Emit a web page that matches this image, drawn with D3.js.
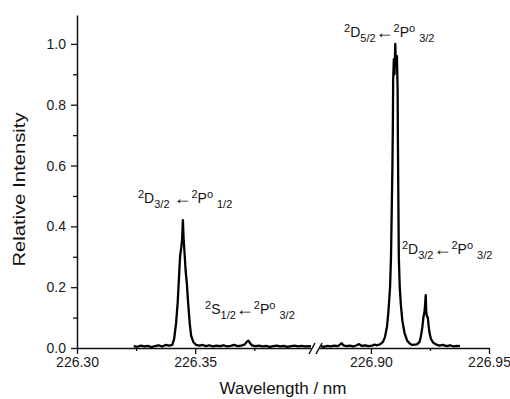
<!DOCTYPE html>
<html>
<head>
<meta charset="utf-8">
<script src="https://cdn.jsdelivr.net/npm/d3@7"></script>
<style>
  html, body { margin: 0; padding: 0; background: #fff; }
  svg { display: block; }
  text { font-family: "Liberation Sans", Arial, "DejaVu Sans", sans-serif; fill: #111; }
</style>
</head>
<body>
<svg id="chart" width="510" height="399"></svg>
<script>
// ---------------- data ----------------
const leftWl = [226.3240,226.3255,226.3270,226.3285,226.3300,226.3315,226.3330,226.3345,226.3360,226.3375,226.3390,226.3403,226.3411,226.3419,226.3426,226.3430,226.3436,226.3441,226.3445,226.3448,226.3451,226.3456,226.3460,226.3465,226.3470,226.3477,226.3483,226.3492,226.3504,226.3518,226.3532,226.3546,226.3560,226.3575,226.3590,226.3605,226.3620,226.3635,226.3650,226.3665,226.3680,226.3695,226.3710,226.3718,226.3725,226.3732,226.3740,226.3755,226.3770,226.3785,226.3800,226.3815,226.3830,226.3845,226.3860,226.3875,226.3890,226.3905,226.3920,226.3935,226.3950,226.3965,226.3980,226.3990];
const leftInt = [0.006,0.004,0.008,0.005,0.007,0.003,0.006,0.009,0.005,0.010,0.008,0.010,0.030,0.080,0.150,0.210,0.300,0.330,0.360,0.420,0.360,0.300,0.250,0.210,0.150,0.080,0.040,0.020,0.010,0.008,0.010,0.006,0.009,0.005,0.008,0.006,0.009,0.005,0.007,0.010,0.006,0.008,0.012,0.020,0.024,0.016,0.009,0.006,0.008,0.005,0.007,0.004,0.006,0.008,0.005,0.007,0.004,0.006,0.008,0.005,0.007,0.005,0.006,0.005];

const rightWl = [226.8788,226.8800,226.8815,226.8830,226.8845,226.8860,226.8870,226.8876,226.8883,226.8895,226.8910,226.8925,226.8940,226.8950,226.8960,226.8975,226.8990,226.9005,226.9015,226.9025,
  226.9038,226.9051,226.9059,226.9068,226.9074,226.9081,226.9085,226.9088,226.9091,226.9093,226.9094,226.9097,226.9100,226.9103,226.9106,226.9110,226.9113,226.9114,226.9116,226.9118,226.9122,226.9127,226.9133,226.9142,226.9153,226.9165,
  226.9175,226.9185,
  226.9195,226.9206,226.9212,226.9218,226.9222,226.9227,226.9230,226.9232,226.9234,226.9237,226.9241,226.9244,226.9248,226.9254,226.9263,226.9275,
  226.9290,226.9305,226.9320,226.9335,226.9350,226.9365,226.9377];
const rightInt = [0.006,0.004,0.007,0.005,0.008,0.006,0.012,0.016,0.009,0.006,0.008,0.005,0.009,0.013,0.007,0.009,0.006,0.008,0.011,0.009,
  0.012,0.020,0.035,0.070,0.120,0.200,0.300,0.450,0.600,0.750,0.880,0.950,0.900,1.000,0.930,0.960,0.850,0.700,0.500,0.300,0.200,0.140,0.090,0.050,0.025,0.014,
  0.010,0.011,
  0.012,0.020,0.040,0.070,0.100,0.120,0.150,0.174,0.120,0.105,0.100,0.075,0.050,0.030,0.018,0.012,
  0.008,0.010,0.006,0.009,0.005,0.007,0.006];

const xDomainLeft = [226.30, 226.399];
const xDomainRight = [226.878, 226.95];
const yDomain = [0, 1.095];

const xTicksLeft = [226.30, 226.35];
const xMinorLeft = [226.325, 226.375];
const xTicksRight = [226.90, 226.95];
const xMinorRight = [226.925];
const yTicks = [0.0, 0.2, 0.4, 0.6, 0.8, 1.0];
const yMinor = [0.1, 0.3, 0.5, 0.7, 0.9];

const xTitle = "Wavelength / nm";
const yTitle = "Relative Intensity";

// labels: parts [text, level (0 base, 1 sup, -1 sub, 2 arrow), extra dx], anchored in data coords
const labels = [
  { seg: "L", wl: 226.3258, v: 0.478, parts: [["2",1],["D",0],["3/2",-1],[" ",0],["\u2190",2],["2",1],["P",0],["o",1],["1/2",-1,4]] },
  { seg: "L", wl: 226.3542, v: 0.112, parts: [["2",1],["S",0],["1/2",-1],["\u2190",2],["2",1],["P",0],["o",1],["3/2",-1,4]] },
  { seg: "R", wl: 226.8886, v: 1.022, parts: [["2",1],["D",0],["5/2",-1],["\u2190",2],["2",1],["P",0],["o",1],["3/2",-1,4]] },
  { seg: "R", wl: 226.9131, v: 0.309, parts: [["2",1],["D",0],["3/2",-1],["\u2190",2],["2",1],["P",0],["o",1],["3/2",-1,4]] }
];

// ---------------- scales ----------------
const svg = d3.select("#chart");
const xL = d3.scaleLinear().domain(xDomainLeft).range([77, 311]);
const xR = d3.scaleLinear().domain(xDomainRight).range([319, 489]);
const y = d3.scaleLinear().domain(yDomain).range([348, 15]);

const fmt2 = d3.format(".2f");
const fmt1 = d3.format(".1f");

// ---------------- axes ----------------
const axisStyle = g => {
  g.selectAll("path.domain").attr("stroke", "#111").attr("stroke-width", 1.5);
  g.selectAll(".tick line").attr("stroke", "#111").attr("stroke-width", 1.3);
  g.selectAll(".tick text").style("font-size", "14px").style("fill", "#1a1a1a")
    .style("font-family", '"Liberation Sans", Arial, sans-serif');
};

const x0 = y(0);
[[xL, xTicksLeft, xMinorLeft], [xR, xTicksRight, xMinorRight]].forEach(([sc, maj, min]) => {
  svg.append("g").attr("transform", `translate(0,${x0})`)
    .call(d3.axisBottom(sc).tickValues(maj).tickFormat(fmt2).tickSize(6).tickPadding(3).tickSizeOuter(0))
    .call(axisStyle);
  svg.append("g").attr("transform", `translate(0,${x0})`)
    .call(d3.axisBottom(sc).tickValues(min).tickFormat("").tickSize(3).tickSizeOuter(0))
    .call(axisStyle)
    .call(g => g.select("path.domain").remove());
});

svg.append("g").attr("transform", `translate(${xL.range()[0]},0)`)
  .call(d3.axisLeft(y).tickValues(yTicks).tickFormat(fmt1).tickSize(6).tickPadding(5).tickSizeOuter(0))
  .call(axisStyle);
svg.append("g").attr("transform", `translate(${xL.range()[0]},0)`)
  .call(d3.axisLeft(y).tickValues(yMinor).tickFormat("").tickSize(4).tickSizeOuter(0))
  .call(axisStyle)
  .call(g => g.select("path.domain").remove());

// break marks
const bx0 = xL.range()[1], bx1 = xR.range()[0];
svg.append("rect").attr("x", bx0).attr("y", x0 - 3).attr("width", bx1 - bx0).attr("height", 6).attr("fill", "#fff");
[bx0 - 1, bx0 + 6].forEach(bx => {
  svg.append("line")
    .attr("x1", bx - 1).attr("y1", x0 + 6)
    .attr("x2", bx + 5).attr("y2", x0 - 5)
    .attr("stroke", "#111").attr("stroke-width", 1.5);
});

// ---------------- data lines ----------------
const leftData = d3.range(Math.min(leftWl.length, leftInt.length)).map(i => [leftWl[i], leftInt[i]]);
const rightData = d3.range(Math.min(rightWl.length, rightInt.length)).map(i => [rightWl[i], rightInt[i]]);

const lineL = d3.line().x(d => xL(d[0])).y(d => y(d[1]));
const lineR = d3.line().x(d => xR(d[0])).y(d => y(d[1]));

svg.append("path").datum(leftData).attr("d", lineL)
  .attr("fill", "none").attr("stroke", "#000").attr("stroke-width", 2.3).attr("stroke-linejoin", "round");
svg.append("path").datum(rightData).attr("d", lineR)
  .attr("fill", "none").attr("stroke", "#000").attr("stroke-width", 2.3).attr("stroke-linejoin", "round");

// ---------------- titles ----------------
svg.append("text")
  .attr("x", (xL.range()[0] + xR.range()[1]) / 2)
  .attr("y", 394)
  .attr("text-anchor", "middle")
  .style("font-size", "17px")
  .text(xTitle);

svg.append("text")
  .attr("transform", `translate(25,${(y.range()[0] + y.range()[1]) / 2 + 8}) rotate(-90)`)
  .attr("text-anchor", "middle")
  .attr("textLength", 154)
  .attr("lengthAdjust", "spacingAndGlyphs")
  .style("font-size", "17px")
  .text(yTitle);

// ---------------- peak labels ----------------
const shift = { "1": -5, "0": 0, "-1": 5, "2": 1 };
labels.forEach(lb => {
  const sc = lb.seg === "L" ? xL : xR;
  const t = svg.append("text")
    .attr("x", sc(lb.wl)).attr("y", y(lb.v))
    .style("font-size", "14px");
  let prev = 0;
  lb.parts.forEach(([s, lvl, dx]) => {
    const ts = t.append("tspan")
      .attr("dy", shift[lvl] - shift[prev])
      .style("font-size", lvl === 0 ? "14px" : (lvl === 2 ? "18px" : "11px"))
      .text(s);
    if (dx) ts.attr("dx", dx);
    prev = lvl;
  });
});
</script>
</body>
</html>
